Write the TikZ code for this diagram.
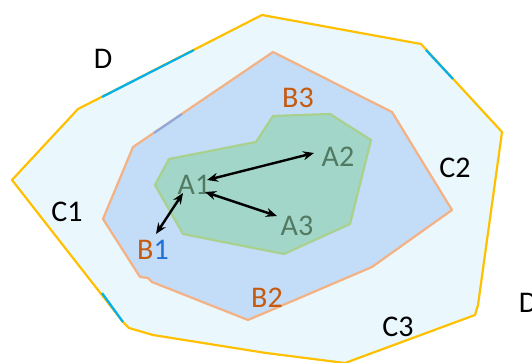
\documentclass[tikz,border=0pt]{standalone}
\usepackage{fontspec}
\setmainfont{Carlito}
\usetikzlibrary{arrows.meta}
\definecolor{outerfill}{HTML}{EAF8FD}
\definecolor{outerline}{HTML}{FFC000}
\definecolor{cyanseg}{HTML}{00B0F0}
\definecolor{midfill}{HTML}{C3DCF7}
\definecolor{midline}{HTML}{F4B183}
\definecolor{midseg}{HTML}{8FAADC}
\definecolor{greenfill}{HTML}{A2D6C8}
\definecolor{greenline}{HTML}{A9D18E}
\definecolor{alabel}{HTML}{527A62}
\definecolor{blabel}{HTML}{C55A11}
\definecolor{bblue}{HTML}{1F6FD6}
\tikzset{
  lbl/.style={font=\fontsize{30}{30}\selectfont, inner sep=0pt, anchor=center},
  alab/.style={lbl, text=alabel},
  blab/.style={lbl, text=blabel},
  clab/.style={lbl, text=black},
  edge/.style={line width=2.2pt},
  dbl/.style={{Stealth[length=11pt,width=9pt]}-{Stealth[length=11pt,width=9pt]}, line width=2.4pt, black},
}
\begin{document}
\begin{tikzpicture}[x=1pt,y=-1pt]
\useasboundingbox (0,0) rectangle (532,363);
% outer region
\draw[edge, fill=outerfill, draw=outerline, line join=round]
  (12,180) -- (78,109) -- (262,15) -- (421,44) -- (502,132) -- (478,305) -- (475,315)
  -- (345,363) -- (266,353) -- (153,335) -- (129,328) -- (123,322) -- cycle;
\draw[edge, cyanseg] (102,97) -- (194,50);
\draw[edge, cyanseg] (426,50) -- (453,79);
\draw[edge, cyanseg] (102,293) -- (123,322);
% middle region
\draw[edge, fill=midfill, draw=midline, line join=round]
  (133,147) -- (273,52) -- (392,112) -- (452,210) -- (372,267) -- (248,320)
  -- (152,282) -- (148,278) -- (140,277) -- (103,219) -- cycle;
\draw[edge, midseg] (154,133) -- (182,114);
% inner region
\draw[edge, fill=greenfill, draw=greenline, line join=round]
  (155,185) -- (169,159) -- (256,142) -- (273,116) -- (330,114) -- (371,140)
  -- (350,224) -- (284,254) -- (183,234) -- cycle;
% labels
\node[clab] (D1) at (103,59) {D};
\node[clab] (D2) at (528,303) {D};
\node[clab] (C1) at (67,212) {C1};
\node[clab] (C2) at (455,168) {C2};
\node[clab] (C3) at (398,327) {C3};
\node[blab] (B3) at (298,98) {B3};
\node[blab] (B2) at (267,298) {B2};
\node[lbl] (B1) at (153,250) {\textcolor{blabel}{B}\textcolor{bblue}{1}};
\node[alab] (A1) at (194,185) {A1};
\node[alab] (A2) at (338,157) {A2};
\node[alab] (A3) at (297,226) {A3};
% arrow endpoints
\coordinate (a1r) at (207,180);
\coordinate (a2l) at (314,153);
\coordinate (a1d) at (205,192);
\coordinate (a3l) at (277,216);
\coordinate (a1b) at (183,193);
\coordinate (b1t) at (156,234);
\draw[dbl] (a1r) -- (a2l);
\draw[dbl] (a1d) -- (a3l);
\draw[dbl] (a1b) -- (b1t);
\end{tikzpicture}
\end{document}
